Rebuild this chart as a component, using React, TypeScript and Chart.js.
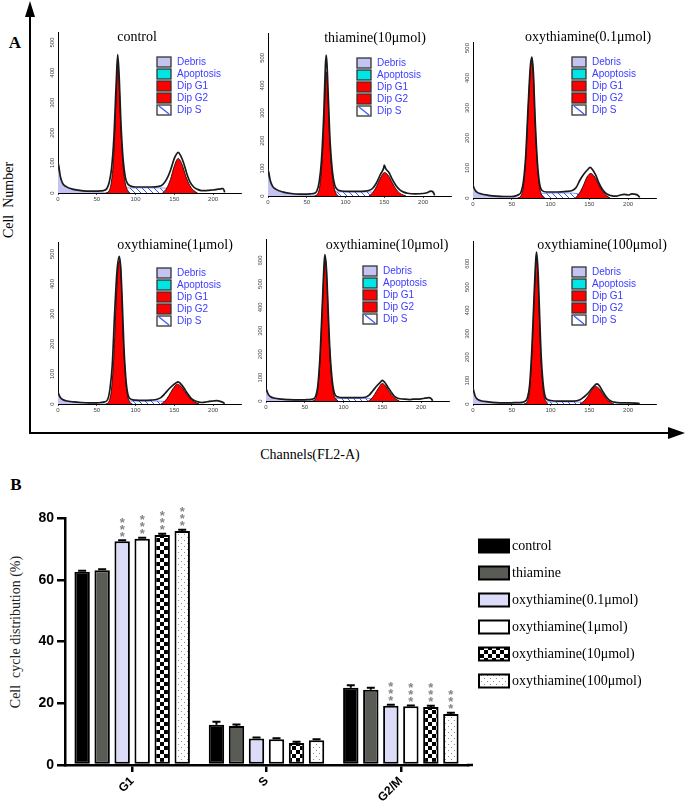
import React, { useEffect, useRef } from "react";
import { Chart, registerables } from "chart.js";
Chart.register(...registerables);

// ================= Panel A : DNA histograms ([channel, count]) =================
const PANEL_TITLES = [
  "control",
  "thiamine(10μmol)",
  "oxythiamine(0.1μmol)",
  "oxythiamine(1μmol)",
  "oxythiamine(10μmol)",
  "oxythiamine(100μmol)",
];
const LEGEND_A = ["Debris", "Apoptosis", "Dip G1", "Dip G2", "Dip S"];
const Y_TICKS_500 = [0, 100, 200, 300, 400, 500];
const Y_TICKS_600 = [0, 100, 200, 300, 400, 500, 600];

// control
const CTRL_DEBRIS = [[0, 85], [2, 60], [5, 35], [10, 20], [15, 14], [20, 10], [30, 6], [40, 4], [50, 3], [60, 2], [70, 1], [80, 0]];
const CTRL_S = [[65, 0], [70, 10], [80, 16], [100, 17], [120, 17], [140, 16], [155, 12], [165, 5], [170, 0]];
const CTRL_G1 = [[62, 0], [66, 8], [69, 40], [72, 130], [75, 320], [77, 440], [79, 360], [81, 220], [84, 90], [87, 30], [90, 8], [93, 0]];
const CTRL_G2 = [[135, 0], [140, 15], [145, 45], [150, 90], [155, 115], [160, 95], [165, 55], [170, 25], [175, 8], [180, 0]];
const CTRL_TOTAL = [[0, 100], [1, 90], [3, 55], [6, 32], [10, 22], [20, 12], [30, 8], [40, 6], [50, 6], [55, 7], [60, 9], [63, 15], [66, 35], [69, 80], [72, 180], [75, 360], [77, 460], [79, 380], [81, 240], [84, 110], [87, 50], [90, 30], [95, 22], [100, 20], [110, 20], [120, 20], [130, 22], [135, 28], [140, 45], [145, 75], [150, 115], [153, 130], [155, 135], [158, 125], [162, 100], [166, 65], [170, 38], [175, 20], [180, 12], [185, 8], [190, 8], [195, 9], [200, 10], [205, 12], [210, 14], [213, 15], [215, 2]];

// thiamine 10
const THIA_DEBRIS = [[0, 80], [2, 55], [5, 35], [10, 22], [15, 15], [20, 11], [30, 7], [40, 5], [50, 3], [60, 2], [70, 0]];
const THIA_S = [[62, 0], [68, 8], [80, 14], [100, 15], [120, 15], [135, 14], [145, 10], [155, 4], [160, 0]];
const THIA_G1 = [[60, 0], [64, 8], [67, 40], [70, 140], [73, 330], [75, 450], [77, 380], [79, 240], [82, 100], [85, 35], [88, 8], [91, 0]];
const THIA_G2 = [[130, 0], [135, 12], [140, 35], [145, 65], [150, 85], [155, 75], [160, 50], [165, 25], [170, 10], [175, 3], [178, 0]];
const THIA_TOTAL = [[0, 95], [1, 85], [3, 55], [6, 35], [10, 25], [20, 14], [30, 9], [40, 7], [50, 7], [55, 8], [60, 10], [63, 18], [66, 50], [69, 130], [72, 300], [74, 470], [75, 510], [76, 480], [78, 340], [80, 200], [83, 90], [86, 40], [90, 22], [95, 18], [100, 17], [110, 17], [120, 17], [130, 20], [135, 28], [140, 48], [145, 78], [149, 100], [150, 112], [152, 98], [156, 85], [160, 62], [165, 38], [170, 22], [175, 14], [180, 10], [190, 8], [200, 9], [205, 12], [210, 18], [213, 14], [215, 2]];

// oxythiamine 0.1
const OX01_DEBRIS = [[0, 40], [2, 28], [5, 18], [10, 12], [20, 7], [30, 4], [40, 3], [50, 2], [60, 1], [70, 0]];
const OX01_S = [[60, 0], [66, 8], [80, 14], [100, 16], [120, 17], [130, 16], [140, 12], [150, 6], [158, 0]];
const OX01_G1 = [[58, 0], [62, 8], [65, 40], [68, 130], [71, 290], [74, 430], [76, 465], [78, 400], [80, 260], [83, 110], [86, 35], [89, 8], [92, 0]];
const OX01_G2 = [[132, 0], [137, 15], [142, 40], [147, 70], [152, 82], [157, 70], [162, 45], [167, 22], [172, 8], [177, 0]];
const OX01_TOTAL = [[0, 45], [1, 35], [3, 25], [6, 18], [10, 14], [20, 9], [30, 6], [40, 5], [50, 5], [55, 7], [58, 10], [62, 20], [65, 55], [68, 140], [71, 300], [74, 440], [76, 470], [78, 410], [80, 270], [83, 120], [86, 45], [89, 25], [95, 20], [100, 20], [110, 20], [120, 22], [128, 25], [133, 35], [138, 60], [143, 80], [148, 95], [151, 102], [154, 95], [158, 78], [162, 52], [167, 28], [172, 14], [178, 8], [185, 6], [190, 10], [195, 12], [200, 10], [205, 14], [210, 12], [213, 8], [215, 2]];

// oxythiamine 1
const OX1_DEBRIS = [[0, 35], [2, 25], [5, 16], [10, 10], [20, 6], [30, 4], [40, 3], [50, 2], [60, 1], [70, 0]];
const OX1_S = [[62, 0], [68, 5], [80, 9], [100, 10], [120, 10], [135, 9], [145, 6], [155, 2], [160, 0]];
const OX1_G1 = [[62, 0], [66, 10], [69, 50], [72, 160], [75, 340], [78, 470], [80, 480], [82, 380], [84, 230], [87, 90], [90, 25], [93, 5], [96, 0]];
const OX1_G2 = [[133, 0], [138, 10], [143, 28], [148, 50], [154, 66], [159, 58], [164, 40], [170, 20], [175, 8], [182, 0]];
const OX1_TOTAL = [[0, 40], [1, 32], [3, 22], [6, 15], [10, 11], [20, 7], [30, 5], [40, 4], [50, 4], [55, 5], [60, 7], [64, 15], [67, 50], [70, 130], [73, 300], [76, 440], [79, 492], [81, 450], [83, 330], [85, 190], [88, 70], [91, 25], [95, 15], [100, 13], [110, 12], [120, 13], [128, 16], [133, 22], [138, 35], [143, 50], [148, 62], [152, 70], [155, 74], [158, 68], [162, 55], [167, 35], [172, 18], [178, 9], [185, 5], [190, 6], [195, 9], [200, 10], [205, 11], [210, 8], [213, 5], [215, 1]];

// oxythiamine 10
const OX10_DEBRIS = [[0, 50], [2, 30], [5, 18], [10, 12], [20, 7], [30, 4], [40, 3], [50, 2], [60, 1], [70, 0]];
const OX10_S = [[62, 0], [68, 6], [80, 10], [100, 11], [120, 11], [135, 10], [142, 6], [150, 2], [155, 0]];
const OX10_G1 = [[60, 0], [64, 10], [67, 60], [70, 200], [73, 430], [75, 570], [77, 600], [79, 480], [81, 300], [84, 120], [87, 35], [90, 8], [93, 0]];
const OX10_G2 = [[132, 0], [136, 10], [140, 28], [145, 55], [150, 75], [154, 65], [158, 45], [162, 25], [167, 10], [172, 0]];
const OX10_TOTAL = [[0, 55], [1, 45], [3, 28], [6, 18], [10, 13], [20, 8], [30, 6], [40, 5], [50, 5], [55, 6], [60, 8], [64, 20], [67, 70], [70, 210], [73, 440], [75, 590], [76, 625], [78, 560], [80, 400], [82, 240], [85, 100], [88, 35], [92, 18], [100, 14], [110, 14], [120, 14], [128, 16], [133, 25], [138, 45], [143, 65], [148, 82], [150, 88], [153, 80], [157, 60], [161, 40], [165, 22], [170, 12], [178, 8], [185, 6], [190, 8], [195, 8], [200, 9], [205, 12], [210, 14], [213, 10], [215, 1]];

// oxythiamine 100
const OX100_DEBRIS = [[0, 60], [2, 35], [5, 20], [10, 12], [20, 7], [30, 4], [40, 3], [50, 2], [60, 1], [70, 0]];
const OX100_S = [[66, 0], [72, 5], [85, 8], [100, 9], [120, 9], [140, 8], [148, 5], [155, 0]];
const OX100_G1 = [[66, 0], [70, 10], [73, 60], [76, 220], [79, 460], [81, 600], [82, 625], [84, 520], [86, 330], [88, 170], [91, 50], [94, 12], [97, 0]];
const OX100_G2 = [[138, 0], [143, 12], [148, 32], [153, 58], [158, 75], [163, 65], [167, 45], [172, 22], [177, 8], [182, 0]];
const OX100_TOTAL = [[0, 70], [1, 55], [3, 32], [6, 20], [10, 14], [20, 9], [30, 6], [40, 5], [50, 5], [55, 6], [60, 6], [66, 10], [70, 25], [73, 80], [76, 240], [79, 480], [81, 620], [82, 650], [84, 560], [86, 370], [88, 200], [91, 70], [94, 25], [100, 15], [110, 12], [120, 12], [130, 12], [138, 18], [143, 30], [148, 45], [153, 65], [157, 80], [160, 86], [163, 78], [167, 55], [172, 30], [177, 14], [182, 8], [190, 5], [200, 5], [210, 4], [215, 2]];

const PANELS = [
  { debris: CTRL_DEBRIS, s: CTRL_S, g1: CTRL_G1, g2: CTRL_G2, total: CTRL_TOTAL, yMax: 535, yTicks: Y_TICKS_500 },
  { debris: THIA_DEBRIS, s: THIA_S, g1: THIA_G1, g2: THIA_G2, total: THIA_TOTAL, yMax: 590, yTicks: Y_TICKS_500 },
  { debris: OX01_DEBRIS, s: OX01_S, g1: OX01_G1, g2: OX01_G2, total: OX01_TOTAL, yMax: 520, yTicks: Y_TICKS_500 },
  { debris: OX1_DEBRIS, s: OX1_S, g1: OX1_G1, g2: OX1_G2, total: OX1_TOTAL, yMax: 540, yTicks: Y_TICKS_500 },
  { debris: OX10_DEBRIS, s: OX10_S, g1: OX10_G1, g2: OX10_G2, total: OX10_TOTAL, yMax: 692, yTicks: Y_TICKS_600 },
  { debris: OX100_DEBRIS, s: OX100_S, g1: OX100_G1, g2: OX100_G2, total: OX100_TOTAL, yMax: 697, yTicks: Y_TICKS_600 },
];

// page-layout of each histogram (pixels)
const LAYOUT_A = [
  { x0: 58, top: 32, base: 193, titleX: 137, titleY: 37, legX: 157, legY: 62 },
  { x0: 268, top: 33, base: 196, titleX: 375, titleY: 38, legX: 357, legY: 63 },
  { x0: 473, top: 42, base: 198, titleX: 588, titleY: 37, legX: 572, legY: 62 },
  { x0: 58, top: 242, base: 404, titleX: 175, titleY: 245, legX: 157, legY: 273 },
  { x0: 266, top: 239, base: 401, titleX: 387, titleY: 245, legX: 363, legY: 271 },
  { x0: 473, top: 241, base: 404, titleX: 602, titleY: 245, legX: 572, legY: 272 },
];
const X_MAX = 236;
const PLOT_W = 183;

// ================= Panel B : bar chart =================
const PHASES = ["G1", "S", "G2/M"];
const GROUPS = [
  "control",
  "thiamine",
  "oxythiamine(0.1μmol)",
  "oxythiamine(1μmol)",
  "oxythiamine(10μmol)",
  "oxythiamine(100μmol)",
];
const CONTROL_PCT = [62.6, 13.0, 25.0];
const THIAMINE_PCT = [63.1, 12.6, 24.4];
const OXY01_PCT = [72.5, 8.6, 19.2];
const OXY1_PCT = [73.3, 8.3, 19.0];
const OXY10_PCT = [74.5, 7.1, 18.8];
const OXY100_PCT = [75.8, 8.0, 16.5];

const CONTROL_ERR = [0.3, 1.0, 0.8];
const THIAMINE_ERR = [0.3, 0.5, 0.6];
const OXY01_ERR = [0.3, 0.3, 0.3];
const OXY1_ERR = [0.3, 0.4, 0.3];
const OXY10_ERR = [0.4, 0.4, 0.4];
const OXY100_ERR = [0.4, 0.3, 0.4];

const CONTROL_SIG = ["", "", ""];
const THIAMINE_SIG = ["", "", ""];
const OXY01_SIG = ["***", "", "***"];
const OXY1_SIG = ["***", "", "***"];
const OXY10_SIG = ["***", "", "***"];
const OXY100_SIG = ["***", "", "***"];

const Y_TICKS_B = [0, 20, 40, 60, 80];

const SERIES_B = [CONTROL_PCT, THIAMINE_PCT, OXY01_PCT, OXY1_PCT, OXY10_PCT, OXY100_PCT];
const ERRS_B = [CONTROL_ERR, THIAMINE_ERR, OXY01_ERR, OXY1_ERR, OXY10_ERR, OXY100_ERR];
const SIGS_B = [CONTROL_SIG, THIAMINE_SIG, OXY01_SIG, OXY1_SIG, OXY10_SIG, OXY100_SIG];

// ================= helpers =================
function tile(w: number, h: number, draw: (g: CanvasRenderingContext2D) => void) {
  const c = document.createElement("canvas");
  c.width = w;
  c.height = h;
  const g = c.getContext("2d")!;
  draw(g);
  return g.createPattern(c, "repeat")!;
}
function makeHatch() {
  return tile(6, 6, (g) => {
    g.fillStyle = "#fff";
    g.fillRect(0, 0, 6, 6);
    g.strokeStyle = "#3a55ff";
    g.lineWidth = 1;
    g.beginPath();
    g.moveTo(0, 0);
    g.lineTo(6, 6);
    g.moveTo(-1, 5);
    g.lineTo(1, 7);
    g.moveTo(5, -1);
    g.lineTo(7, 1);
    g.stroke();
  });
}
function makeChecker() {
  return tile(8, 8, (g) => {
    g.fillStyle = "#fff";
    g.fillRect(0, 0, 8, 8);
    g.fillStyle = "#000";
    g.fillRect(0, 0, 4, 4);
    g.fillRect(4, 4, 4, 4);
  });
}
function makeDots() {
  return tile(6, 6, (g) => {
    g.fillStyle = "#fff";
    g.fillRect(0, 0, 6, 6);
    g.fillStyle = "#8a8a8a";
    g.fillRect(1, 1, 1, 1);
    g.fillRect(4, 4, 1, 1);
  });
}

const SANS = '"Liberation Sans", Arial, sans-serif';
const SERIF = '"Liberation Serif", "Times New Roman", serif';

// ================= Histogram component =================
const YW = 16;
const XH = 14;

function Histogram({ idx }: { idx: number }) {
  const ref = useRef<HTMLCanvasElement>(null);
  const L = LAYOUT_A[idx];
  const P = PANELS[idx];
  const cx = L.x0 - 30;
  const cy = L.top - 30;
  const cw = 30 + PLOT_W + 50;
  const ch = L.base - L.top + 46;

  useEffect(() => {
    const hatch = makeHatch();
    const legendFills: any[] = ["#c4c4f2", "#00e6e6", "#ff0000", "#ff0000", "#ffffff"];
    const decor = {
      id: "decor" + idx,
      afterDraw(chart: any) {
        const ctx = chart.ctx;
        const ys = chart.scales.y;
        ctx.save();
        // rotated y tick labels
        ctx.fillStyle = "#444";
        ctx.font = `6px ${SANS}`;
        ctx.textAlign = "center";
        ctx.textBaseline = "bottom";
        for (const v of P.yTicks) {
          const py = ys.getPixelForValue(v);
          ctx.save();
          ctx.translate(ys.right - 3, py);
          ctx.rotate(-Math.PI / 2);
          ctx.fillText(String(v), 0, 0);
          ctx.restore();
        }
        // title
        ctx.fillStyle = "#000";
        ctx.font = `14px ${SERIF}`;
        ctx.textAlign = "center";
        ctx.textBaseline = "middle";
        ctx.fillText(PANEL_TITLES[idx], L.titleX - cx, L.titleY - cy);
        // legend
        const lx = L.legX - cx;
        const ly = L.legY - cy;
        ctx.font = `10px ${SANS}`;
        ctx.textAlign = "left";
        LEGEND_A.forEach((name, i) => {
          const y = ly + i * 12;
          ctx.fillStyle = legendFills[i];
          ctx.fillRect(lx, y - 5, 14, 10);
          if (i === 4) {
            ctx.strokeStyle = "#3a55ff";
            ctx.lineWidth = 1.2;
            ctx.beginPath();
            ctx.moveTo(lx + 2, y - 4);
            ctx.lineTo(lx + 12, y + 4);
            ctx.stroke();
          }
          ctx.strokeStyle = "#333";
          ctx.lineWidth = 1.3;
          ctx.strokeRect(lx, y - 5, 14, 10);
          ctx.fillStyle = "#3b3bff";
          ctx.fillText(name, lx + 20, y + 0.5);
        });
        ctx.restore();
      },
    };
    const common = { pointRadius: 0, cubicInterpolationMode: "monotone" as const };
    const chart = new Chart(ref.current!, {
      type: "line",
      data: {
        datasets: [
          { label: "total", data: P.total as any, borderColor: "#1a1a1a", borderWidth: 1.7, fill: false, ...common },
          { label: "Dip G1", data: P.g1 as any, borderColor: "#000", borderWidth: 0.8, backgroundColor: "#ff0000", fill: "origin", ...common },
          { label: "Dip G2", data: P.g2 as any, borderColor: "#000", borderWidth: 0.8, backgroundColor: "#ff0000", fill: "origin", ...common },
          { label: "Dip S", data: P.s as any, borderColor: "#3a55ff", borderWidth: 0.6, backgroundColor: hatch, fill: "origin", ...common },
          { label: "Debris", data: P.debris as any, borderColor: "#8c8cd8", borderWidth: 0.6, backgroundColor: "#c4c4f2", fill: "origin", ...common },
        ],
      },
      options: {
        responsive: false,
        animation: false,
        events: [],
        layout: { padding: { left: 30 - YW, top: 30, right: cw - 30 - PLOT_W, bottom: ch - (L.base - cy) - XH } },
        plugins: { legend: { display: false }, tooltip: { enabled: false } },
        scales: {
          x: {
            type: "linear",
            min: 0,
            max: X_MAX,
            afterFit: (s: any) => {
              s.height = XH;
            },
            border: { color: "#000", width: 1 },
            grid: { drawOnChartArea: false, tickLength: 2, color: "#000", lineWidth: 0.7 },
            ticks: {
              stepSize: 10,
              autoSkip: false,
              maxRotation: 0,
              minRotation: 0,
              padding: 1,
              color: "#444",
              font: { size: 6, family: SANS },
              callback: (v: any) => (v % 50 === 0 && v <= 200 ? String(v) : null),
            },
          },
          y: {
            min: 0,
            max: P.yMax,
            afterFit: (s: any) => {
              s.width = YW;
            },
            border: { color: "#000", width: 1 },
            grid: { drawOnChartArea: false, tickLength: 2, color: "#000", lineWidth: 0.7 },
            ticks: { stepSize: 20, autoSkip: false, callback: () => null },
          },
        },
      },
      plugins: [decor],
    });
    return () => chart.destroy();
  }, []);

  return (
    <canvas
      ref={ref}
      width={cw}
      height={ch}
      style={{ position: "absolute", left: cx, top: cy, width: cw, height: ch }}
    />
  );
}

// ================= Bar chart component =================
function BarChartB() {
  const ref = useRef<HTMLCanvasElement>(null);
  const CX = 0,
    CY = 470,
    CW = 685,
    CH = 338;
  const AREA = { left: 65, right: 468, top: 518, bottom: 765 };
  const YWB = 63;
  const XHB = 40;

  useEffect(() => {
    const fills: any[] = ["#000000", "#595b55", "#dcdcf8", "#ffffff", makeChecker(), makeDots()];
    const extras = {
      id: "extrasB",
      afterDatasetsDraw(chart: any) {
        const ctx = chart.ctx;
        const ys = chart.scales.y;
        ctx.save();
        chart.data.datasets.forEach((ds: any, di: number) => {
          const meta = chart.getDatasetMeta(di);
          meta.data.forEach((bar: any, i: number) => {
            const v = SERIES_B[di][i];
            const e = ERRS_B[di][i];
            const yTop = ys.getPixelForValue(v + e);
            const yVal = ys.getPixelForValue(v);
            ctx.strokeStyle = "#000";
            ctx.lineWidth = 2;
            ctx.beginPath();
            ctx.moveTo(bar.x, yVal);
            ctx.lineTo(bar.x, yTop);
            ctx.moveTo(bar.x - 4, yTop);
            ctx.lineTo(bar.x + 4, yTop);
            ctx.stroke();
            const sig = SIGS_B[di][i];
            if (sig) {
              ctx.fillStyle = "#858585";
              ctx.font = `bold 13px ${SANS}`;
              ctx.textAlign = "center";
              ctx.textBaseline = "alphabetic";
              for (let k = 0; k < sig.length; k++) {
                const cyStar = yTop - 7 - k * 7;
                ctx.fillText("*", bar.x, cyStar + 7.4);
              }
            }
          });
        });
        ctx.restore();
      },
      afterDraw(chart: any) {
        const ctx = chart.ctx;
        const a = chart.chartArea;
        ctx.save();
        // small extension of x-axis line
        ctx.strokeStyle = "#000";
        ctx.lineWidth = 2.5;
        ctx.beginPath();
        ctx.moveTo(a.right - 1, a.bottom);
        ctx.lineTo(a.right + 5, a.bottom);
        ctx.stroke();
        // legend
        chart.data.datasets.forEach((ds: any, i: number) => {
          const rowY = 546 - CY + i * 27;
          const bx = 479 - CX;
          ctx.fillStyle = ds.backgroundColor;
          ctx.fillRect(bx, rowY - 6.5, 30, 13);
          ctx.strokeStyle = "#000";
          ctx.lineWidth = 2;
          ctx.strokeRect(bx, rowY - 6.5, 30, 13);
          ctx.fillStyle = "#000";
          ctx.font = `14px ${SERIF}`;
          ctx.textAlign = "left";
          ctx.textBaseline = "middle";
          ctx.fillText(ds.label, 512 - CX, rowY);
        });
        ctx.restore();
      },
    };

    const chart = new Chart(ref.current!, {
      type: "bar",
      data: {
        labels: PHASES,
        datasets: GROUPS.map((g, i) => ({
          label: g,
          data: SERIES_B[i],
          backgroundColor: fills[i],
          borderColor: "#000",
          borderWidth: 2,
          borderSkipped: false as any,
          categoryPercentage: 0.894,
          barPercentage: 0.77,
        })),
      },
      options: {
        responsive: false,
        animation: false,
        events: [],
        layout: {
          padding: {
            left: AREA.left - CX - YWB,
            top: AREA.top - CY,
            right: CX + CW - AREA.right,
            bottom: CY + CH - AREA.bottom - XHB,
          },
        },
        plugins: { legend: { display: false }, tooltip: { enabled: false } },
        scales: {
          x: {
            afterFit: (s: any) => {
              s.height = XHB;
            },
            border: { color: "#000", width: 2.5 },
            grid: { drawOnChartArea: false, offset: false, tickLength: 7, color: "#000", lineWidth: 2.5 },
            ticks: {
              autoSkip: false,
              minRotation: 45,
              maxRotation: 45,
              padding: 2,
              color: "#000",
              font: { size: 12, weight: "bold", family: SANS },
            },
          },
          y: {
            min: 0,
            max: 80,
            afterFit: (s: any) => {
              s.width = YWB;
            },
            afterBuildTicks: (s: any) => {
              s.ticks = Y_TICKS_B.map((v) => ({ value: v }));
            },
            border: { color: "#000", width: 2.5 },
            grid: { drawOnChartArea: false, tickLength: 8, color: "#000", lineWidth: 2.5 },
            ticks: { padding: 3, color: "#000", font: { size: 14, weight: "bold", family: SANS } },
          },
        },
      },
      plugins: [extras],
    });
    return () => chart.destroy();
  }, []);

  return (
    <canvas
      ref={ref}
      width={CW}
      height={CH}
      style={{ position: "absolute", left: CX, top: CY, width: CW, height: CH }}
    />
  );
}

// ================= page =================
function Text({ x, y, children, size = 14, bold = false, rotate = 0, color = "#000" }: any) {
  return (
    <div
      style={{
        position: "absolute",
        left: x,
        top: y,
        transform: `translate(-50%, -50%) rotate(${rotate}deg)`,
        fontFamily: SERIF,
        fontSize: size,
        fontWeight: bold ? "bold" : "normal",
        whiteSpace: "pre",
        lineHeight: 1,
        color,
      }}
    >
      {children}
    </div>
  );
}

export default function App() {
  return (
    <div
      style={{
        position: "fixed",
        left: 0,
        top: 0,
        width: 685,
        height: 808,
        background: "#fff",
        overflow: "hidden",
      }}
    >
      {/* axes arrows for panel A */}
      <div style={{ position: "absolute", left: 29, top: 14, width: 2, height: 420, background: "#000" }} />
      <div
        style={{
          position: "absolute",
          left: 25,
          top: 1,
          width: 0,
          height: 0,
          borderLeft: "5px solid transparent",
          borderRight: "5px solid transparent",
          borderBottom: "16px solid #000",
        }}
      />
      <div style={{ position: "absolute", left: 29, top: 432, width: 642, height: 2, background: "#000" }} />
      <div
        style={{
          position: "absolute",
          left: 668,
          top: 427,
          width: 0,
          height: 0,
          borderTop: "6px solid transparent",
          borderBottom: "6px solid transparent",
          borderLeft: "17px solid #000",
        }}
      />
      <Text x={15} y={42} size={17} bold>
        A
      </Text>
      <Text x={9} y={200} rotate={-90}>
        {"Cell  Number"}
      </Text>
      <Text x={310} y={455}>
        Channels(FL2-A)
      </Text>
      <Text x={16} y={484} size={17} bold>
        B
      </Text>
      <Text x={16} y={632} rotate={-90} color="#222">
        {"Cell  cycle distribution (%)"}
      </Text>
      {LAYOUT_A.map((_, i) => (
        <Histogram key={i} idx={i} />
      ))}
      <BarChartB />
    </div>
  );
}
